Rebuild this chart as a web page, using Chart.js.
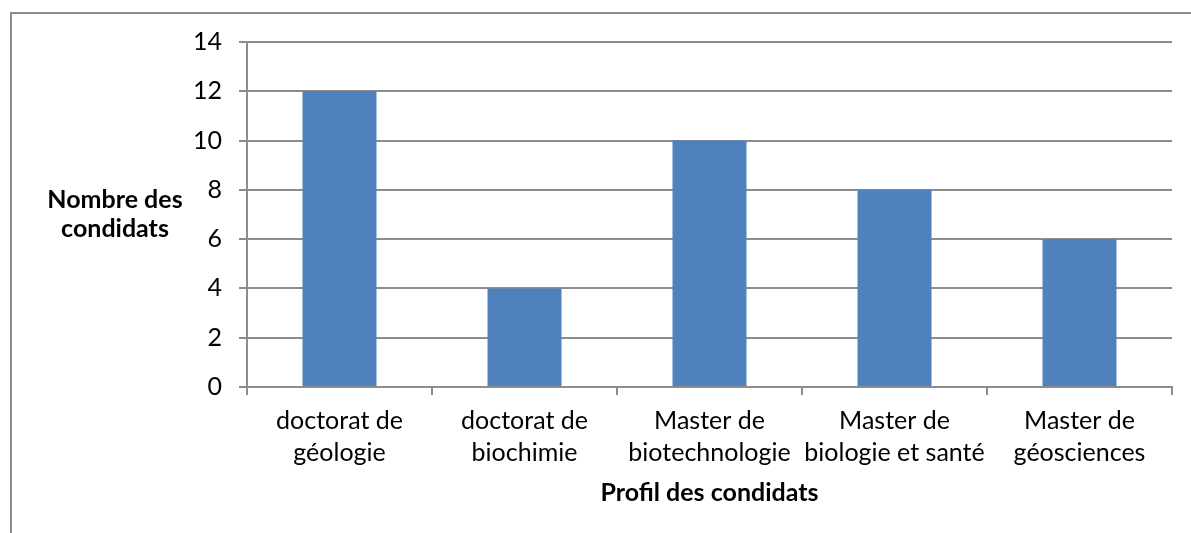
<!DOCTYPE html>
<html>
<head>
<meta charset="utf-8">
<script src="https://cdn.jsdelivr.net/npm/chart.js@4"></script>
<style>
  body { margin: 0; background: #fff; }
  canvas { display: block; }
</style>
</head>
<body>
<canvas id="profilChart" width="1191" height="533"></canvas>
<script>
// data
const categories = [
    ['doctorat de', 'géologie'],
    ['doctorat de', 'biochimie'],
    ['Master de', 'biotechnologie'],
    ['Master de', 'biologie et santé'],
    ['Master de', 'géosciences']
];
const candidateCounts = [12, 4, 10, 8, 6];
const yTitleLines = ['Nombre des', 'condidats'];
const xTitle = 'Profil des condidats';

const gridColor = '#8c8c8c';
const fontFamily = 'Lato, "Open Sans", sans-serif';

// outer frame + horizontal y title (Excel style)
const frameAndTitle = {
    id: 'frameAndTitle',
    afterDraw(chart) {
        const ctx = chart.ctx;
        ctx.save();
        ctx.strokeStyle = '#8c8c8c';
        ctx.lineWidth = 2;
        ctx.strokeRect(11, 13, 1300, 700);
        ctx.fillStyle = '#000';
        ctx.font = 'bold 25px ' + fontFamily;
        ctx.textAlign = 'center';
        ctx.textBaseline = 'middle';
        ctx.fillText(yTitleLines[0], 115, 200);
        ctx.fillText(yTitleLines[1], 115, 229);
        ctx.restore();
    }
};

const ctx = document.getElementById('profilChart').getContext('2d');
new Chart(ctx, {
    type: 'bar',
    data: {
        labels: categories,
        datasets: [{
            data: candidateCounts,
            backgroundColor: '#4f81bd',
            categoryPercentage: 1,
            barPercentage: 0.4
        }]
    },
    options: {
        responsive: false,
        animation: false,
        layout: { padding: { top: 42, right: 19, left: 0, bottom: 25 } },
        plugins: {
            legend: { display: false },
            tooltip: { enabled: false }
        },
        scales: {
            x: {
                offset: true,
                afterFit: (scale) => { scale.height = 121; },
                grid: {
                    offset: true,
                    drawOnChartArea: false,
                    color: gridColor,
                    lineWidth: 2,
                    tickLength: 8
                },
                border: { color: gridColor, width: 2 },
                ticks: {
                    color: '#000',
                    padding: 10,
                    maxRotation: 0,
                    autoSkip: false,
                    font: { family: fontFamily, size: 25, lineHeight: 1.28 }
                },
                title: {
                    display: true,
                    text: xTitle,
                    color: '#000',
                    padding: { top: 0, bottom: 0 },
                    font: { family: fontFamily, size: 25, weight: 'bold', lineHeight: 1.2 }
                }
            },
            y: {
                min: 0,
                max: 14,
                afterFit: (scale) => { scale.width = 247; },
                grid: {
                    color: gridColor,
                    lineWidth: 2,
                    tickLength: 8
                },
                border: { color: gridColor, width: 2 },
                ticks: {
                    stepSize: 2,
                    color: '#000',
                    padding: 17,
                    font: { family: fontFamily, size: 25 }
                }
            }
        }
    },
    plugins: [frameAndTitle]
});
</script>
</body>
</html>
